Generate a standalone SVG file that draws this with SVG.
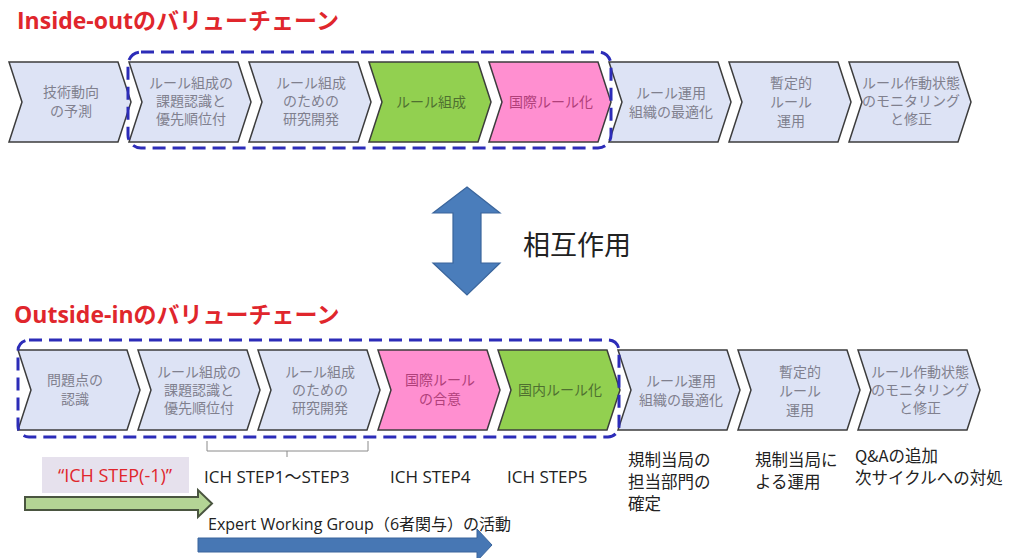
<svg xmlns="http://www.w3.org/2000/svg" width="1014" height="558" viewBox="0 0 1014 558">
<defs>
<style>
.t{font-family:"Open Sans","Noto Sans CJK JP",sans-serif;}
.title{font-family:"Open Sans","Noto Sans CJK JP",sans-serif;font-weight:bold;font-size:23px;fill:#e0262c;}
.cv{stroke:#3c3c3c;stroke-width:1.5;stroke-linejoin:miter;}
.b{fill:#dde3f5;}
.g{fill:#92d050;}
.p{fill:#ff8fd0;}
.ct{font-family:"Noto Sans CJK JP",sans-serif;font-size:14px;text-anchor:middle;fill:#80808e;}
.ctg{fill:#4f7030;}
.ctp{fill:#b0407a;}
.dash{fill:none;stroke:#2c2cb8;stroke-width:3;stroke-dasharray:13 7;}
.lbl{font-family:"Open Sans","Noto Sans CJK JP",sans-serif;font-size:17px;fill:#222;}
.jp{font-family:"Noto Sans CJK JP",sans-serif;font-size:16.5px;fill:#222;}
</style>
</defs>

<text class="title" x="17" y="29">Inside-outのバリューチェーン</text>
<text class="title" x="14" y="323">Outside-inのバリューチェーン</text>

<g id="top-row">
<g id="t1"><path class="cv b" d="M9,62 L118,62 L131,102 L118,142 L9,142 L22,102 Z"/><text class="ct"><tspan x="71" y="97">技術動向</tspan><tspan x="71" y="116">の予測</tspan></text></g>
<g id="t2"><path class="cv b" d="M129,62 L238,62 L251,102 L238,142 L129,142 L142,102 Z"/><text class="ct"><tspan x="191" y="88">ルール組成の</tspan><tspan x="191" y="106">課題認識と</tspan><tspan x="191" y="124">優先順位付</tspan></text></g>
<g id="t3"><path class="cv b" d="M249,62 L358,62 L371,102 L358,142 L249,142 L262,102 Z"/><text class="ct"><tspan x="311" y="88">ルール組成</tspan><tspan x="311" y="106">のための</tspan><tspan x="311" y="124">研究開発</tspan></text></g>
<g id="t4"><path class="cv g" d="M369,62 L478,62 L491,102 L478,142 L369,142 L382,102 Z"/><text class="ct ctg" x="431" y="107">ルール組成</text></g>
<g id="t5"><path class="cv p" d="M489,62 L598,62 L611,102 L598,142 L489,142 L502,102 Z"/><text class="ct ctp" x="551" y="107">国際ルール化</text></g>
<g id="t6"><path class="cv b" d="M609,62 L718,62 L731,102 L718,142 L609,142 L622,102 Z"/><text class="ct"><tspan x="671" y="98">ルール運用</tspan><tspan x="671" y="117">組織の最適化</tspan></text></g>
<g id="t7"><path class="cv b" d="M729,62 L838,62 L851,102 L838,142 L729,142 L742,102 Z"/><text class="ct"><tspan x="791" y="88">暫定的</tspan><tspan x="791" y="107">ルール</tspan><tspan x="791" y="126">運用</tspan></text></g>
<g id="t8"><path class="cv b" d="M849,62 L958,62 L971,102 L958,142 L849,142 L862,102 Z"/><text class="ct"><tspan x="911" y="88">ルール作動状態</tspan><tspan x="911" y="106">のモニタリング</tspan><tspan x="911" y="124">と修正</tspan></text></g>
</g>

<g id="bottom-row">
<g id="b1"><path class="cv b" d="M18,350 L127,350 L140,390 L127,430 L18,430 L31,390 Z"/><text class="ct"><tspan x="75" y="385">問題点の</tspan><tspan x="75" y="404">認識</tspan></text></g>
<g id="b2"><path class="cv b" d="M138,350 L247,350 L260,390 L247,430 L138,430 L151,390 Z"/><text class="ct"><tspan x="199" y="377">ルール組成の</tspan><tspan x="199" y="395">課題認識と</tspan><tspan x="199" y="413">優先順位付</tspan></text></g>
<g id="b3"><path class="cv b" d="M258,350 L367,350 L380,390 L367,430 L258,430 L271,390 Z"/><text class="ct"><tspan x="320" y="377">ルール組成</tspan><tspan x="320" y="395">のための</tspan><tspan x="320" y="413">研究開発</tspan></text></g>
<g id="b4"><path class="cv p" d="M378,350 L487,350 L500,390 L487,430 L378,430 L391,390 Z"/><text class="ct ctp"><tspan x="440" y="385">国際ルール</tspan><tspan x="440" y="404">の合意</tspan></text></g>
<g id="b5"><path class="cv g" d="M498,350 L607,350 L620,390 L607,430 L498,430 L511,390 Z"/><text class="ct ctg" x="560" y="395">国内ルール化</text></g>
<g id="b6"><path class="cv b" d="M618,350 L727,350 L740,390 L727,430 L618,430 L631,390 Z"/><text class="ct"><tspan x="681" y="386">ルール運用</tspan><tspan x="681" y="405">組織の最適化</tspan></text></g>
<g id="b7"><path class="cv b" d="M738,350 L847,350 L860,390 L847,430 L738,430 L751,390 Z"/><text class="ct"><tspan x="800" y="377">暫定的</tspan><tspan x="800" y="396">ルール</tspan><tspan x="800" y="415">運用</tspan></text></g>
<g id="b8"><path class="cv b" d="M858,350 L967,350 L980,390 L967,430 L858,430 L871,390 Z"/><text class="ct"><tspan x="920" y="377">ルール作動状態</tspan><tspan x="920" y="395">のモニタリング</tspan><tspan x="920" y="413">と修正</tspan></text></g>
</g>

<g id="connectors">
<rect id="box-top" class="dash" x="128" y="52" width="483" height="96" rx="13"/>
<rect id="box-bottom" class="dash" x="18" y="340" width="601" height="97" rx="11"/>
<path id="brace" d="M207,441 L207,451 L368,451 L368,441 M287,451 L287,457" fill="none" stroke="#8a8a8a" stroke-width="1"/>
<path id="double-arrow" d="M467,187 L500,213 L481,213 L481,263 L500,263 L467,295 L433,263 L453,263 L453,213 L433,213 Z" fill="#4a7dbb" stroke="#3a659c" stroke-width="1.2"/>
<path id="green-arrow" d="M25,497 L198,497 L198,490 L212,503.5 L198,517 L198,510 L25,510 Z" fill="#b4d495" stroke="#4a5540" stroke-width="2"/>
<path id="blue-arrow" d="M198,538 L477,538 L477,529 L492,545 L477,561 L477,552 L198,552 Z" fill="#4777b4" stroke="#3a659c" stroke-width="1"/>
</g>

<g id="labels">
<text class="t" x="523" y="255" font-size="27" fill="#222">相互作用</text>
<g id="ich-minus1"><rect x="42" y="457" width="147" height="36" fill="#e6e1ed"/><text class="t" x="115" y="482" font-size="18" text-anchor="middle" fill="#e0262c">“ICH STEP(-1)”</text></g>
<text class="lbl" x="204" y="483">ICH STEP1～STEP3</text>
<text class="lbl" x="390" y="483">ICH STEP4</text>
<text class="lbl" x="507" y="483">ICH STEP5</text>
<text class="jp"><tspan x="628" y="466">規制当局の</tspan><tspan x="628" y="488">担当部門の</tspan><tspan x="628" y="510">確定</tspan></text>
<text class="jp"><tspan x="755" y="466">規制当局に</tspan><tspan x="755" y="488">よる運用</tspan></text>
<text class="jp"><tspan x="855" y="462">Q&amp;Aの追加</tspan><tspan x="855" y="484">次サイクルへの対処</tspan></text>
<text class="t" x="208" y="530" font-size="16" fill="#222">Expert Working Group（6者関与）の活動</text>
</g>
</svg>
